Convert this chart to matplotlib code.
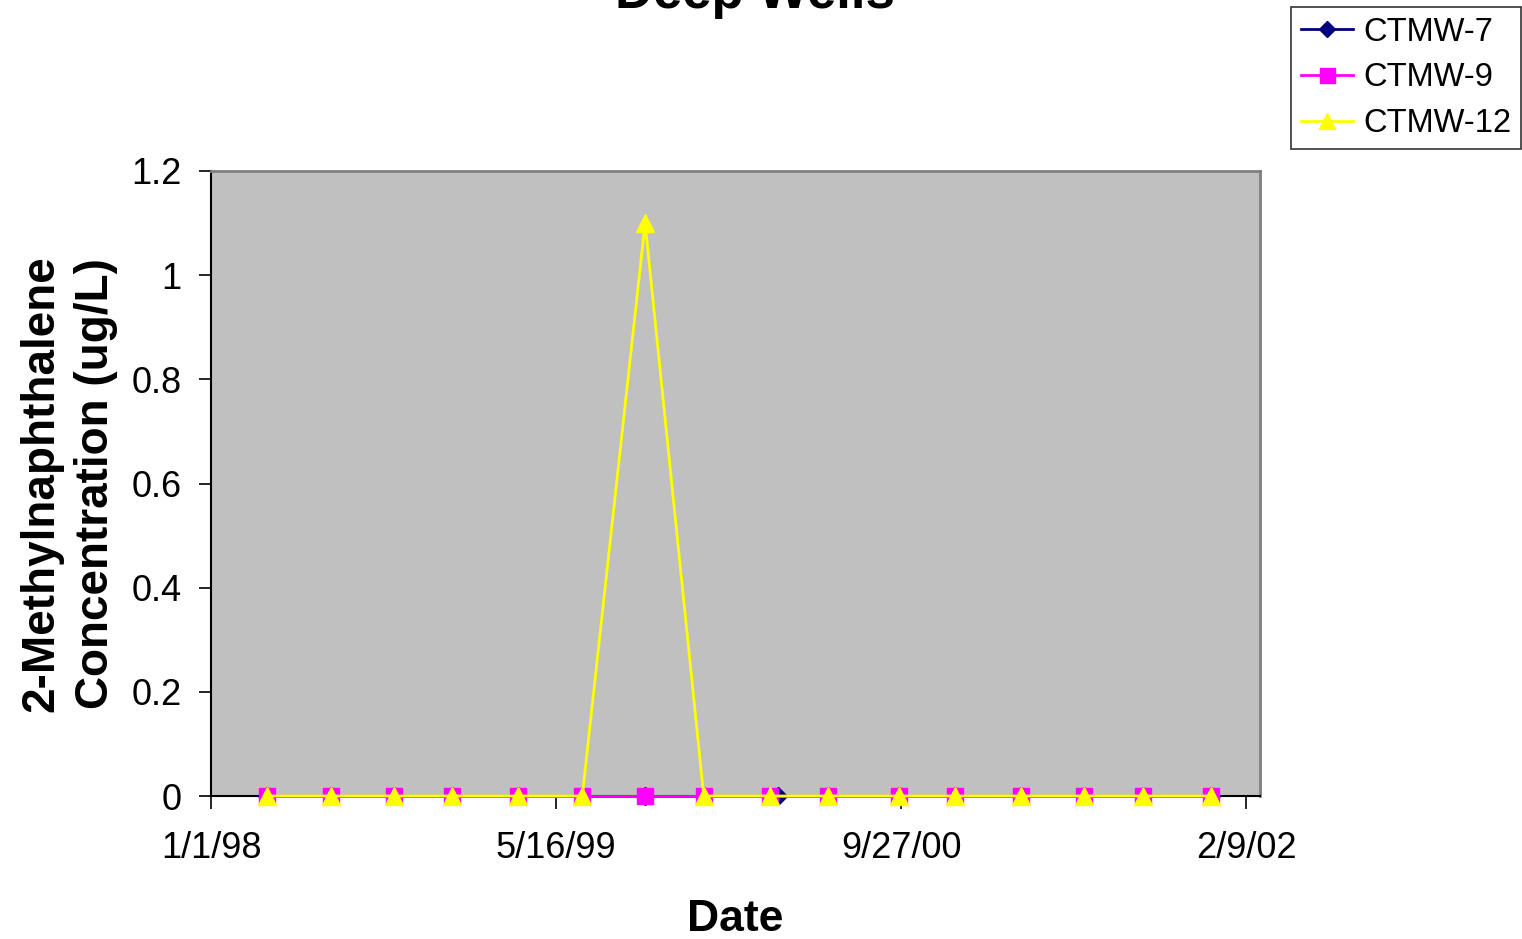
import numpy as np
import pandas as pd
import matplotlib
matplotlib.use("Agg")
import matplotlib.pyplot as plt
import matplotlib.dates as mdates

plt.rcParams["font.family"] = ["Liberation Sans", "DejaVu Sans"]

# sampling dates
dates = pd.to_datetime([
    "1998-03-23", "1998-06-24", "1998-09-23", "1998-12-16", "1999-03-22",
    "1999-06-23", "1999-09-22", "1999-12-16", "2000-03-21", "2000-06-13",
    "2000-09-24", "2000-12-14", "2001-03-20", "2001-06-19", "2001-09-13",
    "2001-12-20"])
dates_7 = pd.to_datetime([
    "1998-03-23", "1998-06-24", "1998-09-23", "1998-12-16", "1999-03-22",
    "1999-06-23", "1999-09-22", "1999-12-16", "2000-04-01", "2000-06-13",
    "2000-09-24", "2000-12-14", "2001-03-20", "2001-06-19", "2001-09-13",
    "2001-12-20"])
ctmw7 = [0, 0, 0, 0, 0, 0, 0, 0, 0, 0, 0, 0, 0, 0, 0, 0]
ctmw9 = [0, 0, 0, 0, 0, 0, 0, 0, 0, 0, 0, 0, 0, 0, 0, 0]
ctmw12 = [0, 0, 0, 0, 0, 0, 1.1, 0, 0, 0, 0, 0, 0, 0, 0, 0]

tick_dates = pd.to_datetime(["1998-01-01", "1999-05-16", "2000-09-27", "2002-02-09"])
tick_labels = ["1/1/98", "5/16/99", "9/27/00", "2/9/02"]

fig = plt.figure(figsize=(15.22, 9.39), dpi=100)
ax = fig.add_axes([211 / 1522, 143 / 939, 1049 / 1522, 625 / 939])
ax.set_facecolor("#C0C0C0")

ax.plot(dates_7, ctmw7, "-D", color="#000080", lw=2, ms=9, label="CTMW-7", zorder=3, clip_on=False)
ax.plot(dates, ctmw9, "-s", color="#FF00FF", lw=2, ms=12, label="CTMW-9", zorder=4, clip_on=False)
ax.plot(dates, ctmw12, "-^", color="#FFFF00", lw=2, ms=13, label="CTMW-12", zorder=5, clip_on=False)

ax.set_xlim(pd.Timestamp("1998-01-01"), pd.Timestamp("2002-03-01"))
ax.set_ylim(0, 1.2)
ax.set_yticks([0, 0.2, 0.4, 0.6, 0.8, 1.0, 1.2])
ax.set_yticklabels(["0", "0.2", "0.4", "0.6", "0.8", "1", "1.2"])
ax.set_xticks(mdates.date2num(tick_dates))
ax.set_xticklabels(tick_labels)
ax.tick_params(axis="both", labelsize=26, length=9, width=1.2, direction="out", color="black")
ax.tick_params(axis="x", pad=16)
ax.tick_params(axis="y", pad=12)

for side in ["top", "right"]:
    ax.spines[side].set_color("#808080")
    ax.spines[side].set_linewidth(2)
for side in ["left", "bottom"]:
    ax.spines[side].set_color("black")
    ax.spines[side].set_linewidth(1.5)

ax.set_xlabel("Date", fontsize=32, fontweight="bold", labelpad=24)
ax.set_ylabel("2-Methylnaphthalene\nConcentration (ug/L)", fontsize=33,
              fontweight="bold", labelpad=10, linespacing=1.3)

fig.text(755 / 1522, 1 - 8 / 939, "Deep Wells", fontsize=38, fontweight="bold",
         ha="center", va="baseline")

leg = fig.legend(loc="upper right", bbox_to_anchor=(1521 / 1522, 1 - 7 / 939),
                 fontsize=23.5, frameon=True, fancybox=False, handlelength=1.6,
                 handletextpad=0.3, borderpad=0.3, labelspacing=0.45,
                 markerscale=0.9, borderaxespad=0)
leg.get_frame().set_edgecolor("black")
leg.get_frame().set_linewidth(1.2)

fig.savefig("out.png", dpi=100)
